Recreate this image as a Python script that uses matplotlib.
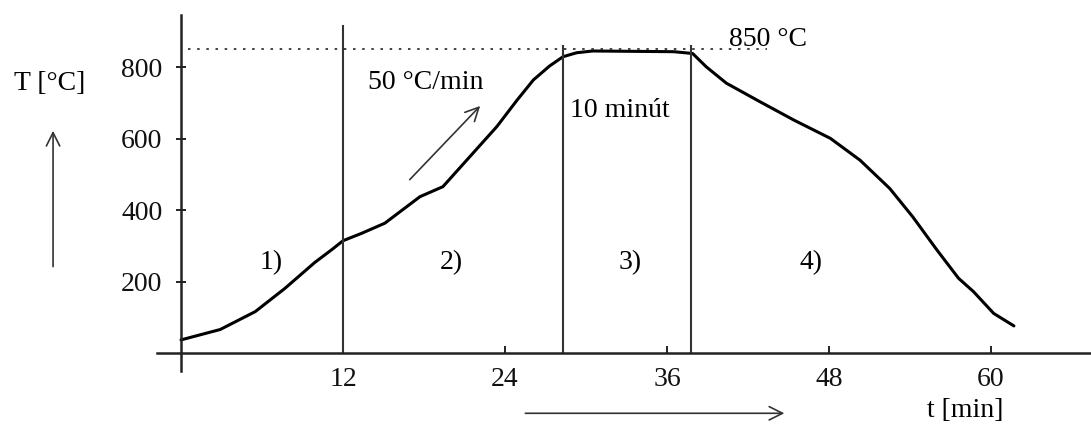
import numpy as np
import matplotlib
matplotlib.use("Agg")
import matplotlib.pyplot as plt

plt.rcParams["font.family"] = ["Liberation Serif", "DejaVu Serif"]

# heating curve: time [min] vs temperature [°C]
t = [0, 2.9, 5.5, 7.7, 9.9, 11.2, 12.0, 13.4, 15.1, 17.7, 19.4, 21.4, 23.4,
     24.9, 26.1, 27.3, 28.3, 29.3, 30.5, 36.5, 37.9, 38.9, 40.4, 42.9, 45.4,
     48.1, 50.3, 52.5, 54.2, 56.0, 57.6, 58.7, 60.2, 61.7]
T = [38, 67, 117, 182, 254, 291, 315, 336, 364, 438, 466, 550, 634,
     708, 764, 803, 829, 840, 845, 843, 838, 801, 755, 703, 652,
     601, 540, 461, 382, 289, 210, 173, 112, 77]

# phase boundaries and labels
bounds = [12, 28.3, 37.8]
bound_tops = [915, 860, 860]
phase_x = [6.7, 20.0, 33.3, 46.7]
phase_lbl = ["1)", "2)", "3)", "4)"]
T_hold = 850

xticks = [12, 24, 36, 48, 60]
yticks = [200, 400, 600, 800]

fig = plt.figure(figsize=(10.91, 4.28), dpi=100)
ax = fig.add_axes([0, 0, 1, 1])
ax.set_xlim(-13.41, 67.41)
ax.set_ylim(-208.1, 987.4)

for s in ["top", "right"]:
    ax.spines[s].set_visible(False)
ax.spines["left"].set_position(("data", 0))
ax.spines["bottom"].set_position(("data", 0))
ax.spines["left"].set_bounds(-50, 945)
ax.spines["bottom"].set_bounds(-1.8, 67.4)
for s in ["left", "bottom"]:
    ax.spines[s].set_linewidth(1.8)
    ax.spines[s].set_color("#222222")

ax.set_xticks(xticks)
ax.set_yticks(yticks)
ax.tick_params(axis="y", direction="inout", length=7, width=1.3, pad=10,
               labelsize=20, colors="#111111")
ax.tick_params(axis="x", direction="in", length=5, width=1.3, pad=10,
               labelsize=20, colors="#111111")

# curve
ax.plot(t, T, color="black", lw=2.2, solid_joinstyle="round",
        solid_capstyle="round")

# vertical phase boundaries
for b, top in zip(bounds, bound_tops):
    ax.plot([b, b], [0, top], color="#333333", lw=1.5)

# holding temperature
ax.plot([0.5, 43.4], [T_hold, T_hold], color="#222222", lw=1.2,
        linestyle=(0, (1.5, 4)))

for x, s in zip(phase_x, phase_lbl):
    ax.text(x, 255, s, ha="center", va="center", fontsize=20)

ax.text(18.1, 758, "50 °C/min", ha="center", va="center", fontsize=20)
ax.text(32.5, 680, "10 minút", ha="center", va="center", fontsize=20)
ax.text(40.6, 876, "850 °C", ha="left", va="center", fontsize=20)
ax.text(-9.7, 755, "T [°C]", ha="center", va="center", fontsize=20)
ax.text(58.1, -160, "t [min]", ha="center", va="center", fontsize=20)

arrow = dict(arrowstyle="->", color="#333333", lw=1.2, mutation_scale=24)
ax.annotate("", xy=(-9.48, 630), xytext=(-9.48, 235), arrowprops=arrow)
ax.annotate("", xy=(22.3, 697), xytext=(16.8, 480), arrowprops=arrow)
ax.annotate("", xy=(44.9, -167), xytext=(25.3, -167), arrowprops=arrow)

fig.savefig("out.png", dpi=100)
